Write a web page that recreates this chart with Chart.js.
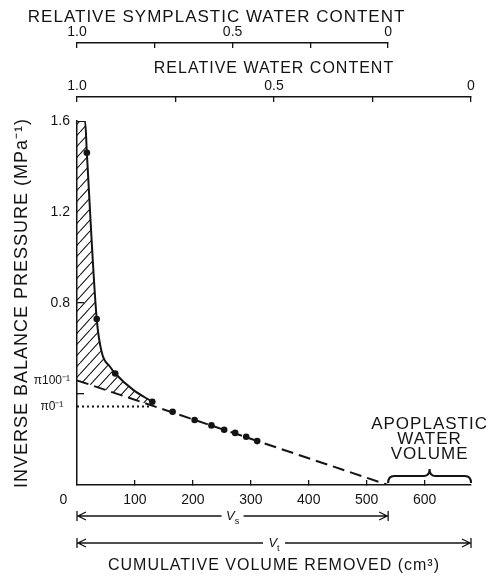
<!DOCTYPE html>
<html>
<head>
<meta charset="utf-8">
<script src="https://cdn.jsdelivr.net/npm/chart.js@4.4.1/dist/chart.umd.min.js"></script>
<style>
  html, body { margin: 0; padding: 0; background: #ffffff; }
  canvas { display: block; }
</style>
</head>
<body>
<canvas id="c" width="490" height="577"></canvas>
<script>
// ---------------- data ----------------
const CURVE_X = [0, 14, 17, 34, 43, 57, 66, 97, 130];
const CURVE_Y = [1.6, 1.6, 1.46, 0.73, 0.58, 0.52, 0.49, 0.418, 0.366];
const OBS_X = [17, 34, 66, 130, 165, 203, 232, 254, 273, 292, 311];
const OBS_Y = [1.46, 0.73, 0.49, 0.366, 0.322, 0.286, 0.262, 0.243, 0.229, 0.212, 0.193];
const LINE_X = [0, 537];
const LINE_Y = [0.46, 0];
const PI0_X = [0, 128];
const PI0_Y = [0.345, 0.345];
const VS = 537;
const VT = 680;
const X_TICKS = [0, 100, 200, 300, 400, 500, 600];
const X_LABELS = ['0       ', '100', '200', '300', '400', '500', '600'];
const Y_TICKS = [0.345, 0.4, 0.46, 0.8, 1.2, 1.6];
const Y_LABELS = ['π0⁻¹  ', '', 'π100⁻¹', '0.8', '1.2', '1.6'];
const Y_MARKED = [0.4, 0.8];
const RWC_TICKS = [0, 0.25, 0.5, 0.75, 1];
const RWC_LABELS = ['0', '', '0.5', '', '1.0'];
const APO_LINES = ['APOPLASTIC', 'WATER', 'VOLUME'];
const SYM_TITLE = 'RELATIVE SYMPLASTIC WATER CONTENT';

// ---------------- helpers ----------------
const INK = '#141414';
const NONE = 'rgba(0,0,0,0)';
const FONT = "'Liberation Sans', Arial, Helvetica, sans-serif";
Chart.defaults.font.family = FONT;
Chart.defaults.color = INK;

const pts = (xs, ys) => xs.map((x, i) => ({ x: x, y: ys[i] }));
const fixH = (h) => (s) => { s.height = h; };
const setTicks = (vals) => (s) => { s.ticks = vals.map(v => ({ value: v })); };

const canvas = document.getElementById('c');
const mainCtx = canvas.getContext('2d');

function makeHatch() {
  const w = 10, h = 11;
  const c = document.createElement('canvas');
  c.width = w; c.height = h;
  const g = c.getContext('2d');
  g.strokeStyle = INK;
  g.lineWidth = 1.1;
  g.beginPath();
  g.moveTo(0, h); g.lineTo(w, 0);
  g.moveTo(-w, h); g.lineTo(0, 0);
  g.moveTo(w, h); g.lineTo(2 * w, 0);
  g.moveTo(-w / 2, h / 2 + h); g.lineTo(w / 2 + w, -h / 2);
  g.stroke();
  return mainCtx.createPattern(c, 'repeat');
}
const HATCH = makeHatch();

// letter spacing for the axis titles only (titles drawn before datasets, tick labels after)
const spacing = {
  id: 'spacing',
  beforeDraw(chart) { chart.ctx.letterSpacing = '1px'; },
  beforeDatasetsDraw(chart) { chart.ctx.letterSpacing = '0px'; }
};

function span(ctx, xa, xb, yy, main, sub) {
  const cx = (xa + xb) / 2, gap = 11;
  ctx.beginPath();
  ctx.moveTo(xa, yy); ctx.lineTo(cx - gap, yy);
  ctx.moveTo(cx + gap, yy); ctx.lineTo(xb, yy);
  ctx.moveTo(xa, yy - 5); ctx.lineTo(xa, yy + 5);
  ctx.moveTo(xb, yy - 5); ctx.lineTo(xb, yy + 5);
  ctx.moveTo(xa + 9, yy - 4); ctx.lineTo(xa + 1, yy); ctx.lineTo(xa + 9, yy + 4);
  ctx.moveTo(xb - 9, yy - 4); ctx.lineTo(xb - 1, yy); ctx.lineTo(xb - 9, yy + 4);
  ctx.stroke();
  ctx.font = 'italic 13px ' + FONT;
  const w1 = ctx.measureText(main).width;
  ctx.font = '9px ' + FONT;
  const w2 = ctx.measureText(sub).width;
  const x0 = cx - (w1 + w2) / 2;
  ctx.textAlign = 'left';
  ctx.textBaseline = 'alphabetic';
  ctx.font = 'italic 13px ' + FONT;
  ctx.fillText(main, x0, yy + 4);
  ctx.font = '9px ' + FONT;
  ctx.fillText(sub, x0 + w1, yy + 8);
}

function brace(ctx, xa, xb, yb, h, r) {
  const xm = (xa + xb) / 2;
  ctx.beginPath();
  ctx.moveTo(xa, yb + h);
  ctx.quadraticCurveTo(xa, yb, xa + r, yb);
  ctx.lineTo(xm - r, yb);
  ctx.quadraticCurveTo(xm, yb, xm, yb - h);
  ctx.quadraticCurveTo(xm, yb, xm + r, yb);
  ctx.lineTo(xb - r, yb);
  ctx.quadraticCurveTo(xb, yb, xb, yb + h);
  ctx.stroke();
}

const extras = {
  id: 'extras',
  afterDraw(chart) {
    const ctx = chart.ctx;
    const x = chart.scales.x, y = chart.scales.y, sym = chart.scales.sym;
    ctx.save();
    ctx.letterSpacing = '0px';
    ctx.strokeStyle = INK;
    ctx.fillStyle = INK;
    ctx.lineWidth = 1.3;
    const x0 = x.getPixelForValue(0);
    span(ctx, x0, x.getPixelForValue(VS), x.top + 31, 'V', 's');
    span(ctx, x0, x.getPixelForValue(VT), x.top + 58, 'V', 't');
    const bx1 = x.getPixelForValue(VS), bx2 = x.getPixelForValue(VT);
    const by = y.getPixelForValue(0) - 9;
    ctx.lineWidth = 2;
    brace(ctx, bx1, bx2, by, 7, 6);
    ctx.font = '17px ' + FONT;
    ctx.letterSpacing = '1px';
    ctx.textAlign = 'center';
    ctx.textBaseline = 'middle';
    const bm = (bx1 + bx2) / 2;
    APO_LINES.forEach((t, i) => ctx.fillText(t, bm, by - 52 + i * 15));
    // title of the symplastic axis (wider than its own axis)
    ctx.fillText(SYM_TITLE, (sym.left + sym.right) / 2 - 16, sym.top + 17.5);
    ctx.letterSpacing = '0px';
    ctx.restore();
  }
};

const hiddenAxis = (extra) => Object.assign({
  type: 'linear', axis: 'x', position: 'top', display: true,
  grid: { display: false, drawTicks: false },
  ticks: { display: false },
  border: { display: false },
  title: { display: false }
}, extra);

new Chart(canvas, {
  type: 'scatter',
  data: {
    datasets: [
      {
        label: 'curve',
        data: pts(CURVE_X, CURVE_Y),
        showLine: true,
        borderColor: INK,
        borderWidth: 2,
        pointRadius: 0,
        cubicInterpolationMode: 'monotone',
        fill: { target: 1 },
        backgroundColor: HATCH,
        order: 2
      },
      {
        label: 'extrapolation',
        data: pts(LINE_X, LINE_Y),
        showLine: true,
        borderColor: INK,
        borderWidth: 2,
        borderDash: [12, 6],
        pointRadius: 0,
        fill: false,
        order: 3
      },
      {
        label: 'pi0',
        data: pts(PI0_X, PI0_Y),
        showLine: true,
        borderColor: INK,
        borderWidth: 2,
        borderDash: [2, 3],
        pointRadius: 0,
        fill: false,
        order: 4
      },
      {
        label: 'observed',
        data: pts(OBS_X, OBS_Y),
        showLine: false,
        pointRadius: 3.3,
        pointBackgroundColor: INK,
        pointBorderWidth: 0,
        order: 1
      }
    ]
  },
  options: {
    responsive: false,
    animation: false,
    events: [],
    layout: { padding: { left: 0, right: 19, top: 0, bottom: 0 } },
    plugins: { legend: { display: false }, tooltip: { enabled: false } },
    scales: {
      x: {
        type: 'linear', position: 'bottom', min: 0, max: VT,
        afterBuildTicks: setTicks(X_TICKS),
        afterFit: fixH(92),
        grid: { drawOnChartArea: false, drawTicks: true, tickLength: -5, lineWidth: 1.3,
                tickColor: (c) => (c.tick && c.tick.value === 0) ? NONE : INK },
        border: { display: true, color: INK, width: 1.5 },
        ticks: { autoSkip: false, maxRotation: 0, padding: 13, z: 1,
                 font: { size: 14, lineHeight: 1 }, callback: (v, i) => X_LABELS[i] },
        title: { display: true, text: 'CUMULATIVE VOLUME REMOVED (cm³)',
                 font: { size: 16, lineHeight: 1 }, padding: { top: 0, bottom: 3 } }
      },
      y: {
        type: 'linear', position: 'left', min: 0, max: 1.6,
        afterBuildTicks: setTicks(Y_TICKS),
        afterFit: (s) => { s.width = 77; },
        grid: { drawOnChartArea: false, drawTicks: true, tickLength: -7, lineWidth: 1.3,
                tickColor: (c) => (c.tick && Y_MARKED.includes(c.tick.value)) ? INK : NONE },
        border: { display: true, color: INK, width: 1.5 },
        ticks: { autoSkip: false, padding: 14, z: 1,
                 font: (c) => ({ size: (c.tick && c.tick.value < 0.5) ? 12 : 14, lineHeight: 1 }),
                 callback: (v, i) => Y_LABELS[i] },
        title: { display: true, text: 'INVERSE BALANCE PRESSURE (MPa⁻¹)',
                 font: { size: 18, lineHeight: 1 }, padding: { top: 13, bottom: 0 } }
      },
      rwc: {
        type: 'linear', axis: 'x', position: 'top', weight: 2,
        min: 0, max: 1, reverse: true,
        afterBuildTicks: setTicks(RWC_TICKS),
        afterFit: fixH(54),
        grid: { drawOnChartArea: false, drawTicks: true, tickLength: -5, lineWidth: 1.3, tickColor: INK },
        border: { display: true, color: INK, width: 1.5 },
        ticks: { autoSkip: false, maxRotation: 0, padding: 8.5, z: 1,
                 font: { size: 14, lineHeight: 1 }, callback: (v, i) => RWC_LABELS[i] },
        title: { display: true, text: 'RELATIVE WATER CONTENT',
                 font: { size: 16, lineHeight: 1 }, padding: { top: 18, bottom: 0 } }
      },
      symRest: hiddenAxis({ weight: 3, stack: 'sym', stackWeight: VT - VS, afterFit: fixH(43) }),
      sym: {
        type: 'linear', axis: 'x', position: 'top', weight: 3,
        stack: 'sym', stackWeight: VS,
        min: 0, max: 1, reverse: true,
        afterBuildTicks: setTicks(RWC_TICKS),
        afterFit: fixH(43),
        grid: { drawOnChartArea: false, drawTicks: true, tickLength: -5, lineWidth: 1.3, tickColor: INK },
        border: { display: true, color: INK, width: 1.5 },
        ticks: { autoSkip: false, maxRotation: 0, padding: 9, z: 1,
                 font: { size: 14, lineHeight: 1 }, callback: (v, i) => RWC_LABELS[i] },
        title: { display: false }
      },
      gap: hiddenAxis({ weight: 1, afterFit: fixH(24) })
    }
  },
  plugins: [spacing, extras]
});
</script>
</body>
</html>
